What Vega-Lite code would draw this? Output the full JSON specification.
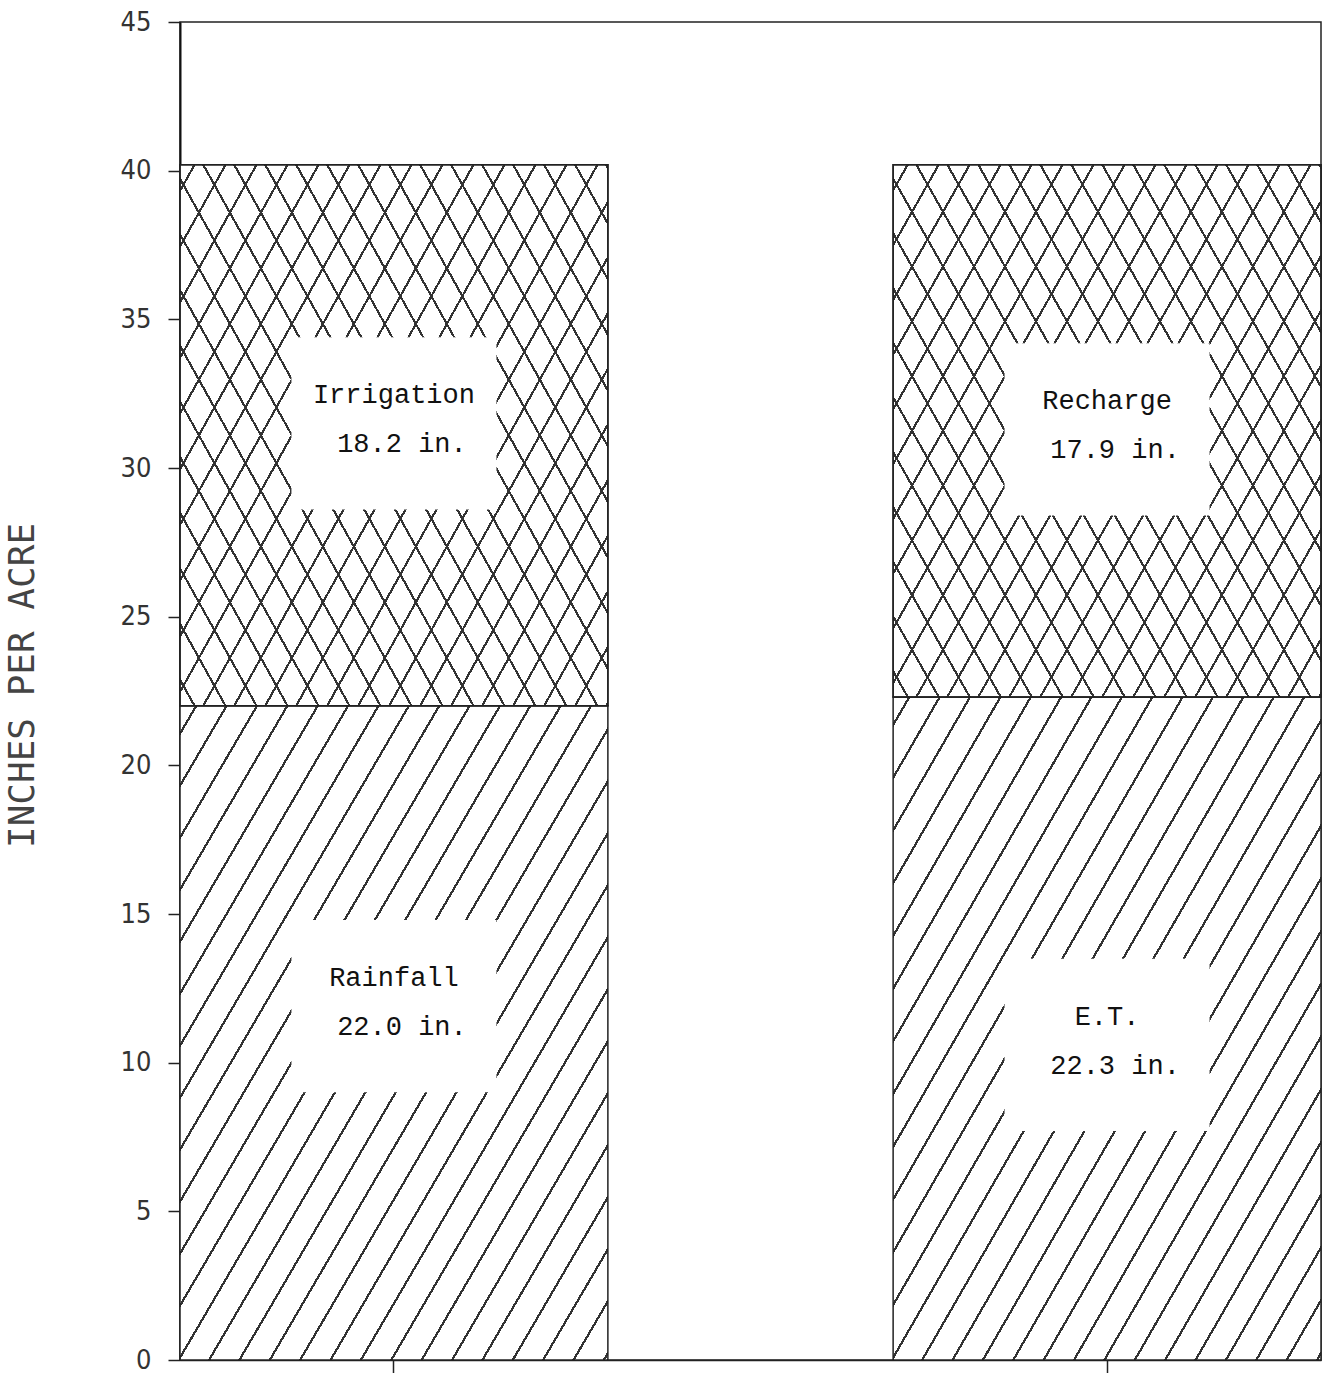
{
  "$schema": "https://vega.github.io/schema/vega-lite/v6.json",
  "width": 1141,
  "height": 1338,
  "autosize": {"type": "none"},
  "padding": {"left": 180, "top": 22, "right": 3, "bottom": 13},
  "background": "white",
  "config": {"view": {"stroke": "#222", "strokeWidth": 1.5}},
  "datasets": {
    "budget": [
      {"side": "Supply", "part": "lower", "component": "Rainfall", "inches": 22.0},
      {"side": "Supply", "part": "upper", "component": "Irrigation", "inches": 18.2},
      {"side": "Disposal", "part": "lower", "component": "E.T.", "inches": 22.3},
      {"side": "Disposal", "part": "upper", "component": "Recharge", "inches": 17.9}
    ],
    "labels": [
      {"side": "Supply", "name": "Irrigation", "amount": "18.2 in.", "y": 31.5},
      {"side": "Supply", "name": "Rainfall", "amount": "22.0 in.", "y": 11.9},
      {"side": "Disposal", "name": "Recharge", "amount": "17.9 in.", "y": 31.3},
      {"side": "Disposal", "name": "E.T.", "amount": "22.3 in.", "y": 10.6}
    ]
  },
  "encoding": {
    "x": {
      "field": "side",
      "type": "nominal",
      "sort": ["Supply", "Disposal"],
      "scale": {"paddingInner": 0.4, "paddingOuter": 0},
      "axis": {"labels": false, "title": null, "tickSize": 13, "tickColor": "#222", "tickWidth": 1.5, "domainColor": "#222", "domainWidth": 1.5}
    }
  },
  "layer": [
    {
      "data": {"name": "budget"},
      "transform": [
        {"stack": "inches", "groupby": ["side"], "sort": [{"field": "part", "order": "ascending"}], "as": ["y0", "y1"]},
        {"filter": "datum.part === 'lower'"}
      ],
      "mark": {
        "type": "bar",
        "stroke": "#222",
        "strokeWidth": 1.5,
        "fill": {
          "gradient": "linear", "x1": 0, "y1": 0, "x2": 1.0533, "y2": 0.9404,
          "stops": [
            {"offset": 0, "color": "#fff"},
            {"offset": 0.0184, "color": "#fff"}, {"offset": 0.0184, "color": "#333"}, {"offset": 0.0216, "color": "#333"}, {"offset": 0.0216, "color": "#fff"},
            {"offset": 0.0559, "color": "#fff"}, {"offset": 0.0559, "color": "#333"}, {"offset": 0.0591, "color": "#333"}, {"offset": 0.0591, "color": "#fff"},
            {"offset": 0.0934, "color": "#fff"}, {"offset": 0.0934, "color": "#333"}, {"offset": 0.0966, "color": "#333"}, {"offset": 0.0966, "color": "#fff"},
            {"offset": 0.1309, "color": "#fff"}, {"offset": 0.1309, "color": "#333"}, {"offset": 0.1341, "color": "#333"}, {"offset": 0.1341, "color": "#fff"},
            {"offset": 0.1684, "color": "#fff"}, {"offset": 0.1684, "color": "#333"}, {"offset": 0.1716, "color": "#333"}, {"offset": 0.1716, "color": "#fff"},
            {"offset": 0.2059, "color": "#fff"}, {"offset": 0.2059, "color": "#333"}, {"offset": 0.2091, "color": "#333"}, {"offset": 0.2091, "color": "#fff"},
            {"offset": 0.2434, "color": "#fff"}, {"offset": 0.2434, "color": "#333"}, {"offset": 0.2466, "color": "#333"}, {"offset": 0.2466, "color": "#fff"},
            {"offset": 0.2809, "color": "#fff"}, {"offset": 0.2809, "color": "#333"}, {"offset": 0.2841, "color": "#333"}, {"offset": 0.2841, "color": "#fff"},
            {"offset": 0.3184, "color": "#fff"}, {"offset": 0.3184, "color": "#333"}, {"offset": 0.3216, "color": "#333"}, {"offset": 0.3216, "color": "#fff"},
            {"offset": 0.3559, "color": "#fff"}, {"offset": 0.3559, "color": "#333"}, {"offset": 0.3591, "color": "#333"}, {"offset": 0.3591, "color": "#fff"},
            {"offset": 0.3934, "color": "#fff"}, {"offset": 0.3934, "color": "#333"}, {"offset": 0.3966, "color": "#333"}, {"offset": 0.3966, "color": "#fff"},
            {"offset": 0.4309, "color": "#fff"}, {"offset": 0.4309, "color": "#333"}, {"offset": 0.4341, "color": "#333"}, {"offset": 0.4341, "color": "#fff"},
            {"offset": 0.4684, "color": "#fff"}, {"offset": 0.4684, "color": "#333"}, {"offset": 0.4716, "color": "#333"}, {"offset": 0.4716, "color": "#fff"},
            {"offset": 0.5059, "color": "#fff"}, {"offset": 0.5059, "color": "#333"}, {"offset": 0.5091, "color": "#333"}, {"offset": 0.5091, "color": "#fff"},
            {"offset": 0.5434, "color": "#fff"}, {"offset": 0.5434, "color": "#333"}, {"offset": 0.5466, "color": "#333"}, {"offset": 0.5466, "color": "#fff"},
            {"offset": 0.5809, "color": "#fff"}, {"offset": 0.5809, "color": "#333"}, {"offset": 0.5841, "color": "#333"}, {"offset": 0.5841, "color": "#fff"},
            {"offset": 0.6184, "color": "#fff"}, {"offset": 0.6184, "color": "#333"}, {"offset": 0.6216, "color": "#333"}, {"offset": 0.6216, "color": "#fff"},
            {"offset": 0.6559, "color": "#fff"}, {"offset": 0.6559, "color": "#333"}, {"offset": 0.6591, "color": "#333"}, {"offset": 0.6591, "color": "#fff"},
            {"offset": 0.6934, "color": "#fff"}, {"offset": 0.6934, "color": "#333"}, {"offset": 0.6966, "color": "#333"}, {"offset": 0.6966, "color": "#fff"},
            {"offset": 0.7309, "color": "#fff"}, {"offset": 0.7309, "color": "#333"}, {"offset": 0.7341, "color": "#333"}, {"offset": 0.7341, "color": "#fff"},
            {"offset": 0.7684, "color": "#fff"}, {"offset": 0.7684, "color": "#333"}, {"offset": 0.7716, "color": "#333"}, {"offset": 0.7716, "color": "#fff"},
            {"offset": 0.8059, "color": "#fff"}, {"offset": 0.8059, "color": "#333"}, {"offset": 0.8091, "color": "#333"}, {"offset": 0.8091, "color": "#fff"},
            {"offset": 0.8434, "color": "#fff"}, {"offset": 0.8434, "color": "#333"}, {"offset": 0.8466, "color": "#333"}, {"offset": 0.8466, "color": "#fff"},
            {"offset": 0.8809, "color": "#fff"}, {"offset": 0.8809, "color": "#333"}, {"offset": 0.8841, "color": "#333"}, {"offset": 0.8841, "color": "#fff"},
            {"offset": 0.9184, "color": "#fff"}, {"offset": 0.9184, "color": "#333"}, {"offset": 0.9216, "color": "#333"}, {"offset": 0.9216, "color": "#fff"},
            {"offset": 0.9559, "color": "#fff"}, {"offset": 0.9559, "color": "#333"}, {"offset": 0.9591, "color": "#333"}, {"offset": 0.9591, "color": "#fff"},
            {"offset": 0.9934, "color": "#fff"}, {"offset": 0.9934, "color": "#333"}, {"offset": 0.9966, "color": "#333"}, {"offset": 0.9966, "color": "#fff"},
            {"offset": 1, "color": "#fff"}
          ]
        }
      },
      "encoding": {
        "y": {
          "field": "y0", "type": "quantitative",
          "scale": {"domain": [0, 45], "nice": false, "zero": true},
          "axis": {
            "title": "INCHES PER ACRE",
            "values": [0, 5, 10, 15, 20, 25, 30, 35, 40, 45],
            "grid": false,
            "tickSize": 12, "tickColor": "#222", "tickWidth": 1.5,
            "domainColor": "#111", "domainWidth": 2,
            "labelFont": "Liberation Sans Narrow, DejaVu Sans Condensed, DejaVu Sans",
            "labelFontSize": 27, "labelColor": "#333", "labelPadding": 17,
            "titleFont": "DejaVu Sans Mono", "titleFontSize": 36, "titleColor": "#444", "titleFontWeight": "normal",
            "titleAngle": 270, "titleX": -158, "titleY": 663, "titleAlign": "center", "titleBaseline": "middle"
          }
        },
        "y2": {"field": "y1"}
      }
    },
    {
      "data": {"name": "budget"},
      "transform": [
        {"stack": "inches", "groupby": ["side"], "sort": [{"field": "part", "order": "ascending"}], "as": ["y0", "y1"]},
        {"filter": "datum.part === 'upper'"}
      ],
      "mark": {
        "type": "bar",
        "stroke": "#222",
        "strokeWidth": 1.5,
        "fill": {
          "gradient": "linear", "x1": 0, "y1": 1, "x2": 1.1393, "y2": 0.1977,
          "stops": [
            {"offset": 0, "color": "#fff"},
            {"offset": 0.0183, "color": "#fff"}, {"offset": 0.0183, "color": "#333"}, {"offset": 0.0217, "color": "#333"}, {"offset": 0.0217, "color": "#fff"},
            {"offset": 0.0608, "color": "#fff"}, {"offset": 0.0608, "color": "#333"}, {"offset": 0.0642, "color": "#333"}, {"offset": 0.0642, "color": "#fff"},
            {"offset": 0.1033, "color": "#fff"}, {"offset": 0.1033, "color": "#333"}, {"offset": 0.1067, "color": "#333"}, {"offset": 0.1067, "color": "#fff"},
            {"offset": 0.1458, "color": "#fff"}, {"offset": 0.1458, "color": "#333"}, {"offset": 0.1492, "color": "#333"}, {"offset": 0.1492, "color": "#fff"},
            {"offset": 0.1883, "color": "#fff"}, {"offset": 0.1883, "color": "#333"}, {"offset": 0.1917, "color": "#333"}, {"offset": 0.1917, "color": "#fff"},
            {"offset": 0.2308, "color": "#fff"}, {"offset": 0.2308, "color": "#333"}, {"offset": 0.2342, "color": "#333"}, {"offset": 0.2342, "color": "#fff"},
            {"offset": 0.2733, "color": "#fff"}, {"offset": 0.2733, "color": "#333"}, {"offset": 0.2767, "color": "#333"}, {"offset": 0.2767, "color": "#fff"},
            {"offset": 0.3158, "color": "#fff"}, {"offset": 0.3158, "color": "#333"}, {"offset": 0.3192, "color": "#333"}, {"offset": 0.3192, "color": "#fff"},
            {"offset": 0.3583, "color": "#fff"}, {"offset": 0.3583, "color": "#333"}, {"offset": 0.3617, "color": "#333"}, {"offset": 0.3617, "color": "#fff"},
            {"offset": 0.4008, "color": "#fff"}, {"offset": 0.4008, "color": "#333"}, {"offset": 0.4042, "color": "#333"}, {"offset": 0.4042, "color": "#fff"},
            {"offset": 0.4433, "color": "#fff"}, {"offset": 0.4433, "color": "#333"}, {"offset": 0.4467, "color": "#333"}, {"offset": 0.4467, "color": "#fff"},
            {"offset": 0.4858, "color": "#fff"}, {"offset": 0.4858, "color": "#333"}, {"offset": 0.4892, "color": "#333"}, {"offset": 0.4892, "color": "#fff"},
            {"offset": 0.5283, "color": "#fff"}, {"offset": 0.5283, "color": "#333"}, {"offset": 0.5317, "color": "#333"}, {"offset": 0.5317, "color": "#fff"},
            {"offset": 0.5708, "color": "#fff"}, {"offset": 0.5708, "color": "#333"}, {"offset": 0.5742, "color": "#333"}, {"offset": 0.5742, "color": "#fff"},
            {"offset": 0.6133, "color": "#fff"}, {"offset": 0.6133, "color": "#333"}, {"offset": 0.6167, "color": "#333"}, {"offset": 0.6167, "color": "#fff"},
            {"offset": 0.6558, "color": "#fff"}, {"offset": 0.6558, "color": "#333"}, {"offset": 0.6592, "color": "#333"}, {"offset": 0.6592, "color": "#fff"},
            {"offset": 0.6983, "color": "#fff"}, {"offset": 0.6983, "color": "#333"}, {"offset": 0.7017, "color": "#333"}, {"offset": 0.7017, "color": "#fff"},
            {"offset": 0.7408, "color": "#fff"}, {"offset": 0.7408, "color": "#333"}, {"offset": 0.7442, "color": "#333"}, {"offset": 0.7442, "color": "#fff"},
            {"offset": 0.7833, "color": "#fff"}, {"offset": 0.7833, "color": "#333"}, {"offset": 0.7867, "color": "#333"}, {"offset": 0.7867, "color": "#fff"},
            {"offset": 0.8258, "color": "#fff"}, {"offset": 0.8258, "color": "#333"}, {"offset": 0.8292, "color": "#333"}, {"offset": 0.8292, "color": "#fff"},
            {"offset": 0.8683, "color": "#fff"}, {"offset": 0.8683, "color": "#333"}, {"offset": 0.8717, "color": "#333"}, {"offset": 0.8717, "color": "#fff"},
            {"offset": 0.9108, "color": "#fff"}, {"offset": 0.9108, "color": "#333"}, {"offset": 0.9142, "color": "#333"}, {"offset": 0.9142, "color": "#fff"},
            {"offset": 0.9533, "color": "#fff"}, {"offset": 0.9533, "color": "#333"}, {"offset": 0.9567, "color": "#333"}, {"offset": 0.9567, "color": "#fff"},
            {"offset": 0.9958, "color": "#fff"}, {"offset": 0.9958, "color": "#333"}, {"offset": 0.9992, "color": "#333"}, {"offset": 0.9992, "color": "#fff"},
            {"offset": 1, "color": "#fff"}
          ]
        }
      },
      "encoding": {
        "y": {"field": "y0", "type": "quantitative", "axis": {"title": "INCHES PER ACRE"}},
        "y2": {"field": "y1"}
      }
    },
    {
      "data": {"name": "budget"},
      "transform": [
        {"stack": "inches", "groupby": ["side"], "sort": [{"field": "part", "order": "ascending"}], "as": ["y0", "y1"]},
        {"filter": "datum.part === 'upper'"}
      ],
      "mark": {
        "type": "bar",
        "stroke": "#222",
        "strokeWidth": 1.5,
        "fill": {
          "gradient": "linear", "x1": 0, "y1": 0, "x2": 1.1393, "y2": 0.8023,
          "stops": [
            {"offset": 0, "color": "rgba(255,255,255,0)"},
            {"offset": 0.0183, "color": "rgba(255,255,255,0)"}, {"offset": 0.0183, "color": "#333"}, {"offset": 0.0217, "color": "#333"}, {"offset": 0.0217, "color": "rgba(255,255,255,0)"},
            {"offset": 0.0608, "color": "rgba(255,255,255,0)"}, {"offset": 0.0608, "color": "#333"}, {"offset": 0.0642, "color": "#333"}, {"offset": 0.0642, "color": "rgba(255,255,255,0)"},
            {"offset": 0.1033, "color": "rgba(255,255,255,0)"}, {"offset": 0.1033, "color": "#333"}, {"offset": 0.1067, "color": "#333"}, {"offset": 0.1067, "color": "rgba(255,255,255,0)"},
            {"offset": 0.1458, "color": "rgba(255,255,255,0)"}, {"offset": 0.1458, "color": "#333"}, {"offset": 0.1492, "color": "#333"}, {"offset": 0.1492, "color": "rgba(255,255,255,0)"},
            {"offset": 0.1883, "color": "rgba(255,255,255,0)"}, {"offset": 0.1883, "color": "#333"}, {"offset": 0.1917, "color": "#333"}, {"offset": 0.1917, "color": "rgba(255,255,255,0)"},
            {"offset": 0.2308, "color": "rgba(255,255,255,0)"}, {"offset": 0.2308, "color": "#333"}, {"offset": 0.2342, "color": "#333"}, {"offset": 0.2342, "color": "rgba(255,255,255,0)"},
            {"offset": 0.2733, "color": "rgba(255,255,255,0)"}, {"offset": 0.2733, "color": "#333"}, {"offset": 0.2767, "color": "#333"}, {"offset": 0.2767, "color": "rgba(255,255,255,0)"},
            {"offset": 0.3158, "color": "rgba(255,255,255,0)"}, {"offset": 0.3158, "color": "#333"}, {"offset": 0.3192, "color": "#333"}, {"offset": 0.3192, "color": "rgba(255,255,255,0)"},
            {"offset": 0.3583, "color": "rgba(255,255,255,0)"}, {"offset": 0.3583, "color": "#333"}, {"offset": 0.3617, "color": "#333"}, {"offset": 0.3617, "color": "rgba(255,255,255,0)"},
            {"offset": 0.4008, "color": "rgba(255,255,255,0)"}, {"offset": 0.4008, "color": "#333"}, {"offset": 0.4042, "color": "#333"}, {"offset": 0.4042, "color": "rgba(255,255,255,0)"},
            {"offset": 0.4433, "color": "rgba(255,255,255,0)"}, {"offset": 0.4433, "color": "#333"}, {"offset": 0.4467, "color": "#333"}, {"offset": 0.4467, "color": "rgba(255,255,255,0)"},
            {"offset": 0.4858, "color": "rgba(255,255,255,0)"}, {"offset": 0.4858, "color": "#333"}, {"offset": 0.4892, "color": "#333"}, {"offset": 0.4892, "color": "rgba(255,255,255,0)"},
            {"offset": 0.5283, "color": "rgba(255,255,255,0)"}, {"offset": 0.5283, "color": "#333"}, {"offset": 0.5317, "color": "#333"}, {"offset": 0.5317, "color": "rgba(255,255,255,0)"},
            {"offset": 0.5708, "color": "rgba(255,255,255,0)"}, {"offset": 0.5708, "color": "#333"}, {"offset": 0.5742, "color": "#333"}, {"offset": 0.5742, "color": "rgba(255,255,255,0)"},
            {"offset": 0.6133, "color": "rgba(255,255,255,0)"}, {"offset": 0.6133, "color": "#333"}, {"offset": 0.6167, "color": "#333"}, {"offset": 0.6167, "color": "rgba(255,255,255,0)"},
            {"offset": 0.6558, "color": "rgba(255,255,255,0)"}, {"offset": 0.6558, "color": "#333"}, {"offset": 0.6592, "color": "#333"}, {"offset": 0.6592, "color": "rgba(255,255,255,0)"},
            {"offset": 0.6983, "color": "rgba(255,255,255,0)"}, {"offset": 0.6983, "color": "#333"}, {"offset": 0.7017, "color": "#333"}, {"offset": 0.7017, "color": "rgba(255,255,255,0)"},
            {"offset": 0.7408, "color": "rgba(255,255,255,0)"}, {"offset": 0.7408, "color": "#333"}, {"offset": 0.7442, "color": "#333"}, {"offset": 0.7442, "color": "rgba(255,255,255,0)"},
            {"offset": 0.7833, "color": "rgba(255,255,255,0)"}, {"offset": 0.7833, "color": "#333"}, {"offset": 0.7867, "color": "#333"}, {"offset": 0.7867, "color": "rgba(255,255,255,0)"},
            {"offset": 0.8258, "color": "rgba(255,255,255,0)"}, {"offset": 0.8258, "color": "#333"}, {"offset": 0.8292, "color": "#333"}, {"offset": 0.8292, "color": "rgba(255,255,255,0)"},
            {"offset": 0.8683, "color": "rgba(255,255,255,0)"}, {"offset": 0.8683, "color": "#333"}, {"offset": 0.8717, "color": "#333"}, {"offset": 0.8717, "color": "rgba(255,255,255,0)"},
            {"offset": 0.9108, "color": "rgba(255,255,255,0)"}, {"offset": 0.9108, "color": "#333"}, {"offset": 0.9142, "color": "#333"}, {"offset": 0.9142, "color": "rgba(255,255,255,0)"},
            {"offset": 0.9533, "color": "rgba(255,255,255,0)"}, {"offset": 0.9533, "color": "#333"}, {"offset": 0.9567, "color": "#333"}, {"offset": 0.9567, "color": "rgba(255,255,255,0)"},
            {"offset": 0.9958, "color": "rgba(255,255,255,0)"}, {"offset": 0.9958, "color": "#333"}, {"offset": 0.9992, "color": "#333"}, {"offset": 0.9992, "color": "rgba(255,255,255,0)"},
            {"offset": 1, "color": "rgba(255,255,255,0)"}
          ]
        }
      },
      "encoding": {
        "y": {"field": "y0", "type": "quantitative", "axis": {"title": "INCHES PER ACRE"}},
        "y2": {"field": "y1"}
      }
    },
    {
      "data": {"name": "labels"},
      "mark": {"type": "point", "shape": "M-1,-0.84H1V0.84H-1Z", "size": 42025, "filled": true, "fill": "white", "opacity": 1, "strokeWidth": 0},
      "encoding": {
        "y": {"field": "y", "type": "quantitative", "axis": {"title": "INCHES PER ACRE"}}
      }
    },
    {
      "data": {"name": "labels"},
      "mark": {"type": "text", "font": "Liberation Mono", "fontSize": 27, "color": "#111", "dy": -28, "align": "center", "baseline": "middle"},
      "encoding": {
        "y": {"field": "y", "type": "quantitative", "axis": {"title": "INCHES PER ACRE"}},
        "text": {"field": "name", "type": "nominal"}
      }
    },
    {
      "data": {"name": "labels"},
      "mark": {"type": "text", "font": "Liberation Mono", "fontSize": 27, "color": "#111", "dy": 21, "dx": 8, "align": "center", "baseline": "middle"},
      "encoding": {
        "y": {"field": "y", "type": "quantitative", "axis": {"title": "INCHES PER ACRE"}},
        "text": {"field": "amount", "type": "nominal"}
      }
    }
  ]
}
